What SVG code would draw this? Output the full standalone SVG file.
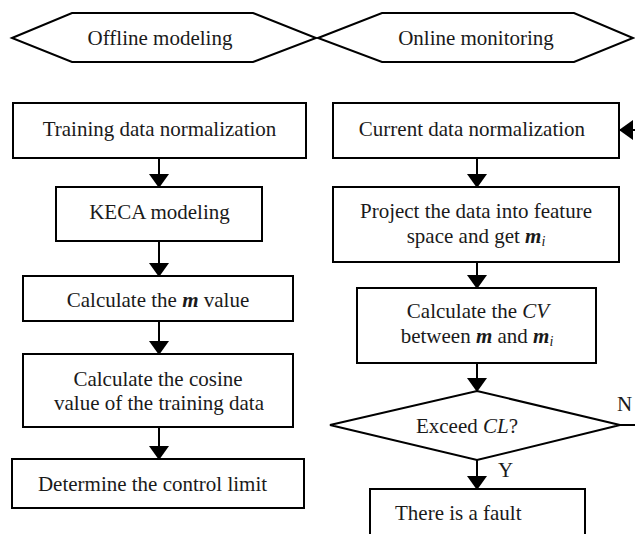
<svg xmlns="http://www.w3.org/2000/svg" width="635" height="534" viewBox="0 0 635 534">
<style>
.s{fill:#fff;stroke:#000;stroke-width:2}
.c{fill:none;stroke:#000;stroke-width:2}
text{font-family:"Liberation Serif","Times New Roman",serif;font-size:21px;fill:#1a1a1a}
.m{text-anchor:middle}
.bi{font-weight:bold;font-style:italic}
.i{font-style:italic}
.sub{font-style:italic;font-size:14px}
</style>
<defs>
<marker id="ah" markerUnits="userSpaceOnUse" markerWidth="14" markerHeight="20" viewBox="0 0 14 20" refX="13" refY="10" orient="auto">
<path d="M0,0 L14,10 L0,20 z" fill="#000"/>
</marker>
</defs>
<rect width="635" height="534" fill="#fff"/>
<g id="offline-header">
<polygon class="s" points="12,38 72,13 253,13 316,38 253,62 72,62"/>
<text class="m" x="160" y="45">Offline modeling</text>
</g>
<g id="online-header">
<polygon class="s" points="318,38 382,13 574,13 633,38 574,62 382,62"/>
<text class="m" x="476" y="45">Online monitoring</text>
</g>
<g id="connectors">
<path class="c" d="M159,158 V187" marker-end="url(#ah)"/>
<path class="c" d="M159,241 V276" marker-end="url(#ah)"/>
<path class="c" d="M159,321 V354" marker-end="url(#ah)"/>
<path class="c" d="M159,427 V459" marker-end="url(#ah)"/>
<path class="c" d="M477,158 V187" marker-end="url(#ah)"/>
<path class="c" d="M477,262 V288" marker-end="url(#ah)"/>
<path class="c" d="M477,363 V391" marker-end="url(#ah)"/>
<path class="c" d="M477,460 V489" marker-end="url(#ah)"/>
<path class="c" d="M620,425 H650 V130 H620" marker-end="url(#ah)"/>
<text x="498" y="477">Y</text>
<text x="617" y="411">N</text>
</g>
<g id="n-train-norm">
<rect class="s" x="13" y="103" width="293" height="55"/>
<text class="m" x="159.5" y="136">Training data normalization</text>
</g>
<g id="n-keca">
<rect class="s" x="56" y="187" width="206" height="54"/>
<text class="m" x="159.5" y="219">KECA modeling</text>
</g>
<g id="n-m-value">
<rect class="s" x="23" y="276" width="270" height="45"/>
<text class="m" x="158" y="307">Calculate the <tspan class="bi">m</tspan> value</text>
</g>
<g id="n-cosine">
<rect class="s" x="23" y="354" width="270" height="73"/>
<text class="m" x="158" y="386">Calculate the cosine</text>
<text class="m" x="159" y="410">value of the training data</text>
</g>
<g id="n-control-limit">
<rect class="s" x="12" y="459" width="292" height="49"/>
<text class="m" x="152.5" y="491">Determine the control limit</text>
</g>
<g id="n-current-norm">
<rect class="s" x="333" y="103" width="286" height="55"/>
<text class="m" x="472" y="136">Current data normalization</text>
</g>
<g id="n-project">
<rect class="s" x="333" y="187" width="286" height="75"/>
<text class="m" x="476" y="218">Project the data into feature</text>
<text class="m" x="476" y="243">space and get <tspan class="bi">m</tspan><tspan class="sub" dy="3">i</tspan></text>
</g>
<g id="n-cv">
<rect class="s" x="357" y="288" width="239" height="75"/>
<text class="m" x="478" y="318">Calculate the <tspan class="i">CV</tspan></text>
<text class="m" x="477" y="343">between <tspan class="bi">m</tspan> and <tspan class="bi">m</tspan><tspan class="sub" dy="3">i</tspan></text>
</g>
<g id="n-exceed">
<polygon class="s" points="477,391 620,425 477,460 330,425"/>
<text class="m" x="467" y="433">Exceed <tspan class="i">CL</tspan>?</text>
</g>
<g id="n-fault">
<rect class="s" x="370" y="489" width="215" height="60"/>
<text x="395" y="520">There is a fault</text>
</g>
</svg>
